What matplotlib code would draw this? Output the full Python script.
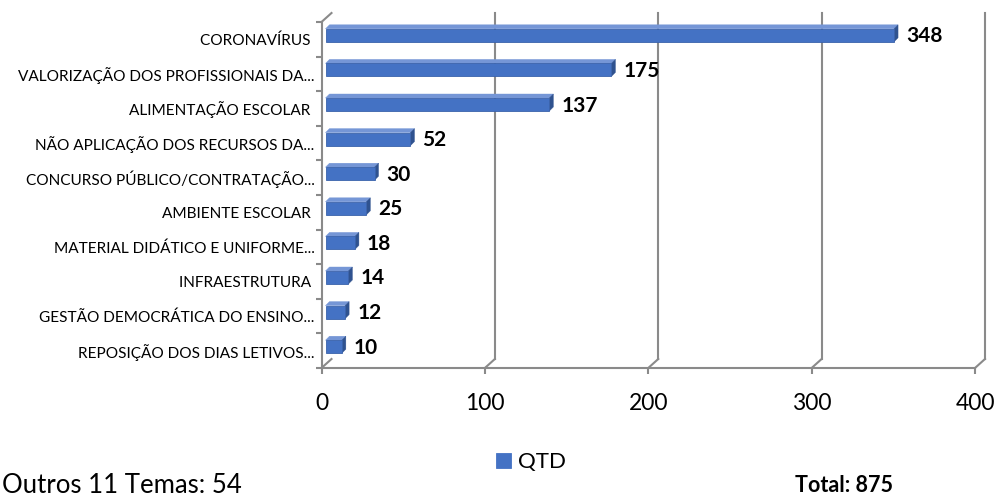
import matplotlib
matplotlib.use("Agg")
import matplotlib.pyplot as plt
from matplotlib import transforms
from matplotlib.patches import Polygon
from matplotlib.lines import Line2D

# ---- data ----
categories = [
    "CORONAVÍRUS ",
    "VALORIZAÇÃO DOS PROFISSIONAIS DA...",
    "ALIMENTAÇÃO ESCOLAR ",
    "NÃO APLICAÇÃO DOS RECURSOS DA...",
    "CONCURSO PÚBLICO/CONTRATAÇÃO...",
    "AMBIENTE ESCOLAR ",
    "MATERIAL DIDÁTICO E UNIFORME...",
    "INFRAESTRUTURA ",
    "GESTÃO DEMOCRÁTICA DO ENSINO...",
    "REPOSIÇÃO DOS DIAS LETIVOS...",
]
qtd = [348, 175, 137, 52, 30, 25, 18, 14, 12, 10]
x_ticks = [0, 100, 200, 300, 400]
series_name = "QTD"
others_note = "Outros 11 Temas: 54"
total_note = "Total: 875"

# ---- style ----
FONT = ["Lato", "DejaVu Sans"]
plt.rcParams["font.family"] = FONT
FRONT = "#4472C4"
TOP = "#7596D6"
SIDE = "#2F528F"
EDGE = "#3A62AB"
GRID = "#8A8A8A"

DPI = 100
W, H = 997, 498
DEPTH_WALL = (10, 9)   # px offset of the back wall (right, up)
DEPTH_BAR = 4          # px depth of each bar
BAR_SHIFT = (4, 4)     # px shift of the bar front face (right, up)

fig = plt.figure(figsize=(W / DPI, H / DPI), dpi=DPI)
ax_left, ax_right, ax_top, ax_bot = 321.5, 975.0, 22.0, 368.0
ax = fig.add_axes([ax_left / W, (H - ax_bot) / H,
                   (ax_right - ax_left) / W, (ax_bot - ax_top) / H])
ax.set_facecolor("none")
n = len(categories)
ypos = list(range(n))
ax.set_xlim(0, 400)
ax.set_ylim(n - 0.5, -0.5)

for s in ("top", "right"):
    ax.spines[s].set_visible(False)
for s in ("left", "bottom"):
    ax.spines[s].set_color(GRID)
    ax.spines[s].set_linewidth(1.5)

ax.set_xticks(x_ticks)
ax.set_xticklabels([str(t) for t in x_ticks])
ax.tick_params(axis="x", length=4, width=1.5, color=GRID, pad=14,
               labelsize=16.5, labelcolor="black")
ax.set_yticks(ypos)
ax.set_yticklabels(categories)
ax.tick_params(axis="y", which="major", length=0, pad=5,
               labelsize=11.1, labelcolor="black")
ax.set_yticks([i - 0.5 for i in range(n + 1)], minor=True)
ax.tick_params(axis="y", which="minor", length=4, width=1.5, color=GRID)

ident = transforms.IdentityTransform()
wall_off = transforms.ScaledTranslation(DEPTH_WALL[0] / DPI, DEPTH_WALL[1] / DPI,
                                        fig.dpi_scale_trans)

# back wall gridlines
xt = ax.get_xaxis_transform()
for t in x_ticks[1:]:
    ax.add_line(Line2D([t, t], [0, 1], transform=xt + wall_off, color=GRID,
                       lw=1.5, zorder=0.5, clip_on=False))

# floor slants at each tick and left wall top edge
for t in x_ticks:
    x0, y0 = xt.transform((t, 0))
    ax.add_line(Line2D([x0, x0 + DEPTH_WALL[0]], [y0, y0 + DEPTH_WALL[1]],
                       transform=ident, color=GRID, lw=1.5, zorder=0.5, clip_on=False))
x0, y0 = xt.transform((0, 1))
ax.add_line(Line2D([x0, x0 + DEPTH_WALL[0]], [y0, y0 + DEPTH_WALL[1]],
                   transform=ident, color=GRID, lw=1.5, zorder=0.5, clip_on=False))

# bars: front faces
bar_h = 0.375
bar_off = transforms.ScaledTranslation(BAR_SHIFT[0] / DPI, BAR_SHIFT[1] / DPI,
                                       fig.dpi_scale_trans)
bars = ax.barh(ypos, qtd, height=bar_h, color=FRONT, edgecolor=EDGE, linewidth=0.6,
               transform=ax.transData + bar_off, zorder=3, label=series_name,
               clip_on=False)

# bars: top and side faces
d = DEPTH_BAR
for y, v in zip(ypos, qtd):
    (xl, yt) = ax.transData.transform((0, y - bar_h / 2))
    (xr, yb) = ax.transData.transform((v, y + bar_h / 2))
    xl += BAR_SHIFT[0]; xr += BAR_SHIFT[0]
    yt += BAR_SHIFT[1]; yb += BAR_SHIFT[1]
    top = Polygon([(xl, yt), (xr, yt), (xr + d, yt + d), (xl + d, yt + d)],
                  closed=True, transform=ident, facecolor=TOP, edgecolor=TOP,
                  lw=0.3, zorder=2.9, clip_on=False)
    side = Polygon([(xr, yb), (xr, yt), (xr + d, yt + d), (xr + d, yb + d)],
                   closed=True, transform=ident, facecolor=SIDE, edgecolor=SIDE,
                   lw=0.3, zorder=2.9, clip_on=False)
    ax.add_patch(top)
    ax.add_patch(side)

# value labels
for y, v in zip(ypos, qtd):
    ax.annotate(str(v), xy=(v, y), xytext=(16, 3), textcoords="offset pixels",
                ha="left", va="center", fontsize=15, fontweight="bold",
                color="black", zorder=5)

# legend
leg = fig.legend(handles=[bars], labels=[series_name], loc="center",
                 bbox_to_anchor=(531 / W, (H - 462) / H), frameon=False,
                 fontsize=16, handlelength=0.65, handleheight=0.65,
                 handletextpad=0.3, borderpad=0)
for p in leg.get_patches():
    p.set_edgecolor(FRONT)

fig.text(2 / W, (H - 485) / H, others_note, ha="left", va="center", fontsize=18.5)
fig.text(795 / W, (H - 485) / H, total_note, ha="left", va="center",
         fontsize=15.5, fontweight="bold")

fig.savefig("out.png", dpi=DPI)
